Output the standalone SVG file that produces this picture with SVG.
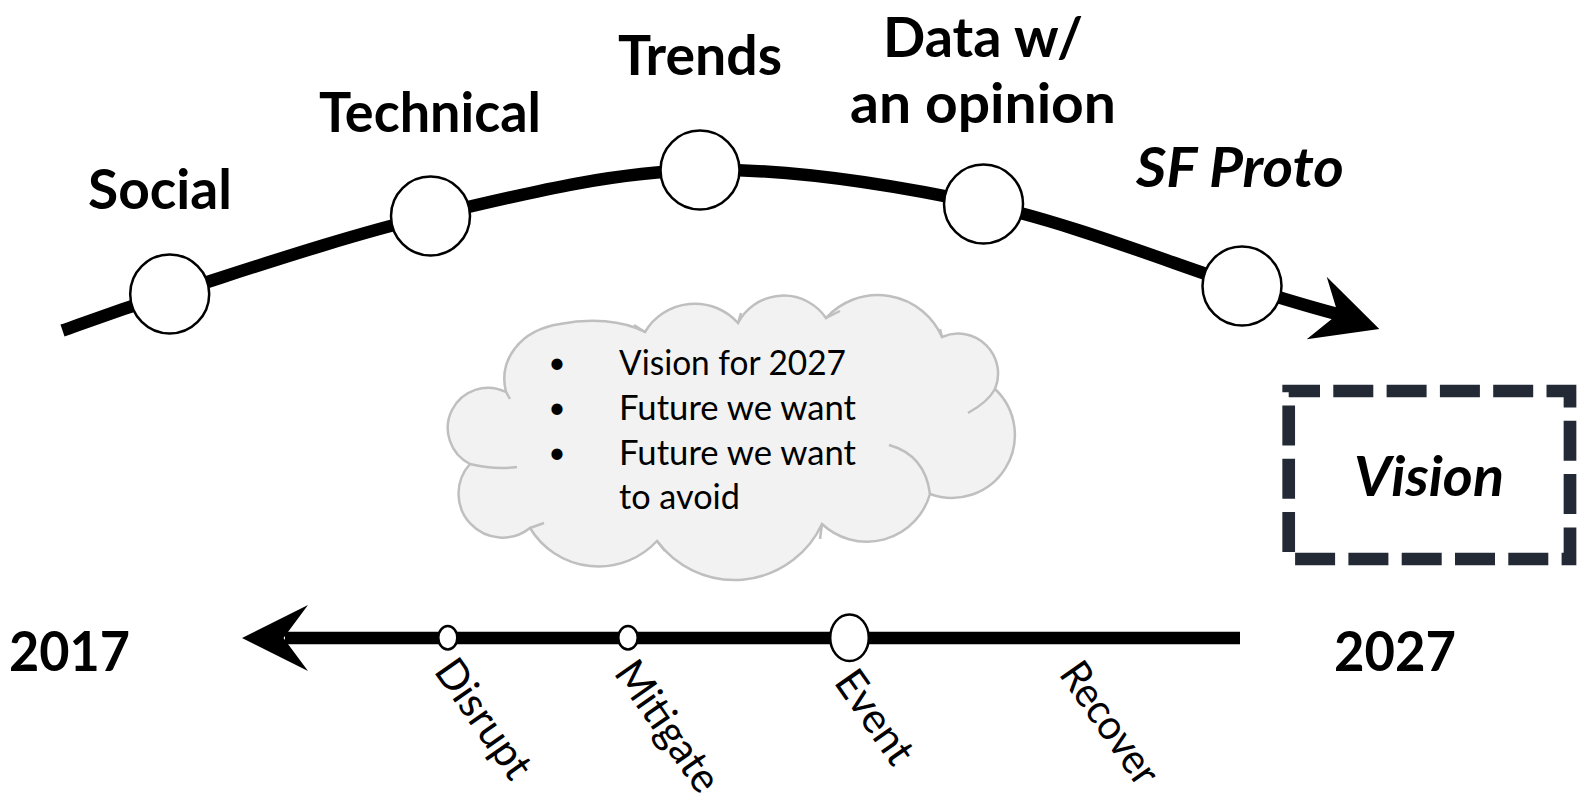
<svg xmlns="http://www.w3.org/2000/svg" width="1578" height="805" viewBox="0 0 1578 805">
<style>
.lbl{font-family:Lato,"Open Sans","Liberation Sans",sans-serif;font-weight:bold;font-size:55px;fill:#000}
.it{font-style:italic}
.txt{font-family:Lato,"Open Sans","Liberation Sans",sans-serif;font-size:35px;fill:#000}
.bul{font-family:Lato,"Open Sans","Liberation Sans",sans-serif;font-size:30px;fill:#000}
.rot{font-family:Lato,"Open Sans","Liberation Sans",sans-serif;font-size:42px;fill:#000}
.node{fill:#fff;stroke:#000;stroke-width:2.5}
.line{fill:none;stroke:#000;stroke-width:12.5}
.cloud{fill:#f2f2f2;stroke:#bfbfbf;stroke-width:2.5}
.hint{fill:none;stroke:#bfbfbf;stroke-width:2.5}
</style>
<rect width="1578" height="805" fill="#fff"/>
<g id="connectors">
  <path class="line" d="M62.5,330.5 C80.4,324.4 108.4,313.1 169.7,294 C231,274.9 341.6,236.7 430,216 C518.4,195.3 607.8,172 700,170 C792.2,168 892.7,184.7 983,204 C1073.3,223.3 1182.8,267.7 1242,286 C1290,301 1320,310 1345,316"/>
  <polygon points="1379.3,329 1326.7,276.7 1338,314 1306.7,339.3" fill="#000"/>
  <line class="line" x1="285" y1="638" x2="1240" y2="638"/>
  <polygon points="242,638 308,605 283.5,638 308,671" fill="#000"/>
</g>
<g id="node-social">
  <circle class="node" cx="169.7" cy="294" r="39.5"/>
  <text class="lbl" x="88" y="209" textLength="144" lengthAdjust="spacingAndGlyphs">Social</text>
</g>
<g id="node-technical">
  <circle class="node" cx="430.5" cy="216" r="39.5"/>
  <text class="lbl" x="319" y="132" textLength="222" lengthAdjust="spacingAndGlyphs">Technical</text>
</g>
<g id="node-trends">
  <circle class="node" cx="700" cy="170" r="39.5"/>
  <text class="lbl" x="618" y="75" textLength="164" lengthAdjust="spacingAndGlyphs">Trends</text>
</g>
<g id="node-data">
  <circle class="node" cx="983.5" cy="204" r="39.5"/>
  <text class="lbl" x="883" y="57" textLength="200" lengthAdjust="spacingAndGlyphs">Data w/</text>
  <text class="lbl" x="850" y="123" textLength="266" lengthAdjust="spacingAndGlyphs">an opinion</text>
</g>
<g id="node-sfproto">
  <circle class="node" cx="1242" cy="286" r="39.5"/>
  <text class="lbl it" x="1136" y="187" textLength="208" lengthAdjust="spacingAndGlyphs">SF Proto</text>
</g>
<g id="node-cloud">
  <path class="cloud" d="M506,392 C498,360 520,330 560,324 C590,318 622,320 645,332 A58,58 0 0 1 738,323 A51.5,51.5 0 0 1 826,318 A70,70 0 0 1 942,337 A40,40 0 0 1 995,389 A63,63 0 0 1 930,494 A65.6,65.6 0 0 1 822,524 A96.5,96.5 0 0 1 657,541 A80,80 0 0 1 530,528 A44,44 0 0 1 470,464 A40,40 0 0 1 506,392 Z"/>
  <path class="hint" d="M470,464 Q495,470 517,467 M530,528 L544,523 M657,541 L665,551 M822,524 L820,539 M889,445 Q925,455 930,494 M995,389 Q988,402 968,413 M942,337 L940,329 M826,318 L840,311 M738,323 L741,313 M645,332 L634,325 M506,392 L510,399"/>
  <text class="bul" x="557" y="373" text-anchor="middle">•</text>
  <text class="bul" x="557" y="418" text-anchor="middle">•</text>
  <text class="bul" x="557" y="463" text-anchor="middle">•</text>
  <text class="txt" x="619" y="375" textLength="227" lengthAdjust="spacingAndGlyphs">Vision for 2027</text>
  <text class="txt" x="619" y="420" textLength="237" lengthAdjust="spacingAndGlyphs">Future we want</text>
  <text class="txt" x="619" y="465" textLength="237" lengthAdjust="spacingAndGlyphs">Future we want</text>
  <text class="txt" x="619" y="509" textLength="121" lengthAdjust="spacingAndGlyphs">to avoid</text>
</g>
<g id="node-vision">
  <rect x="1288.7" y="391" width="281.3" height="168" fill="#fff" stroke="#232a35" stroke-width="12.7" stroke-dasharray="40 13.3" stroke-dashoffset="8.7"/>
  <text class="lbl it" x="1354" y="496" textLength="150" lengthAdjust="spacingAndGlyphs">Vision</text>
</g>
<g id="node-2017">
  <text class="lbl" x="9" y="671" textLength="121" lengthAdjust="spacingAndGlyphs">2017</text>
</g>
<g id="node-2027">
  <text class="lbl" x="1334" y="671" textLength="122" lengthAdjust="spacingAndGlyphs">2027</text>
</g>
<g id="node-disrupt">
  <ellipse class="node" cx="447.8" cy="637.7" rx="9.5" ry="11.7"/>
  <text class="rot" transform="translate(433,671) rotate(55)" textLength="136" lengthAdjust="spacingAndGlyphs">Disrupt</text>
</g>
<g id="node-mitigate">
  <ellipse class="node" cx="628" cy="637.7" rx="9.7" ry="11.7"/>
  <text class="rot" transform="translate(613,673) rotate(55)" textLength="150" lengthAdjust="spacingAndGlyphs">Mitigate</text>
</g>
<g id="node-event">
  <ellipse class="node" cx="849.5" cy="637.7" rx="19.3" ry="23.3"/>
  <text class="rot" transform="translate(833,682) rotate(55)" textLength="105" lengthAdjust="spacingAndGlyphs">Event</text>
</g>
<g id="node-recover">
  <text class="rot" transform="translate(1058,674) rotate(55)" textLength="140" lengthAdjust="spacingAndGlyphs">Recover</text>
</g>
</svg>
